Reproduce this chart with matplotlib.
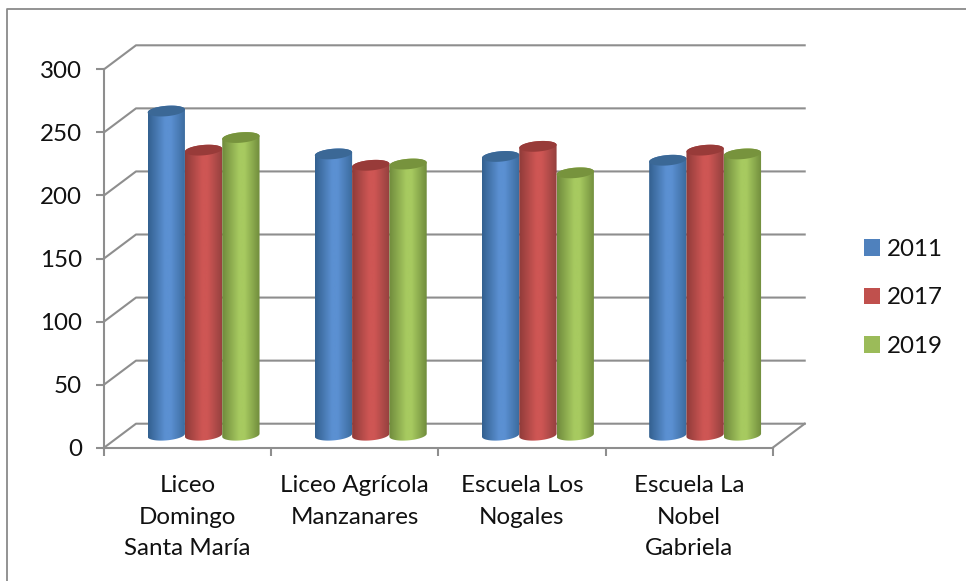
import numpy as np
import matplotlib
matplotlib.use('Agg')
import matplotlib.pyplot as plt
from matplotlib.colors import LinearSegmentedColormap
from matplotlib.lines import Line2D
from matplotlib.patches import Patch, Polygon

schools = ['Liceo\nDomingo\nSanta María', 'Liceo Agrícola\nManzanares', 'Escuela Los\nNogales', 'Escuela La\nNobel\nGabriela']
years = ['2011', '2017', '2019']
values_2011 = [257, 223, 221, 218]
values_2017 = [226, 214, 229, 226]
values_2019 = [236, 215, 208, 223]
y_ticks = [0, 50, 100, 150, 200, 250, 300]

W, H = 966, 581
GRID = '#8e8e8e'
TEXT = '#111111'
FONT = 'Lato'
FONT_SIZE = 17.4

# body gradient (edge, centre, edge) and top cap per series
shades = [('#33608f', '#5b90d2', '#3a6a9c'), ('#8f3b39', '#ce5654', '#93403e'), ('#6f8a3c', '#a7ca60', '#708c3c')]
side_colors = ['#4f81bd', '#c0504d', '#9bbb59']
cap_colors = ['#3b6896', '#983b39', '#77933d']

# plot box in pixels
left, right, top, bottom = 104, 772.7, 69.3, 447.7
px_x = (right - left) / 4
px_y = (bottom - top) / 300
depth_x = 32 / px_x
depth_y = 24 / px_y
bar_w = 37.3 / px_x
cap_b = 5.2 / px_y
cap_tilt = 1.5 / px_y
base_y = 12.5 / px_y

fig = plt.figure(figsize=(W / 100, H / 100), dpi=100)
ax = fig.add_axes([left / W, 1 - bottom / H, (right - left) / W, (bottom - top) / H])
ax.patch.set_visible(False)

# outer frame, only top and left show
fig.add_artist(Line2D([7 / W, 7 / W, 1], [0, 1 - 9 / H, 1 - 9 / H], color='#8a8a8a', lw=1.3))

# wall and floor lines
for v in y_ticks:
    ax.plot([0, depth_x, 4 + depth_x], [v, v + depth_y, v + depth_y], color=GRID, lw=1.5, clip_on=False, zorder=1)
ax.plot([4, 4 + depth_x], [0, depth_y], color=GRID, lw=1.5, clip_on=False, zorder=1)


def ellipse(cx, cy, t):
    return np.column_stack([cx + bar_w / 2 * np.cos(t), cy + cap_b * np.sin(t) + cap_tilt * np.cos(t)])


def cylinder(cx, value, shade, cap_color, z):
    low = ellipse(cx, base_y, np.linspace(np.pi, 2 * np.pi, 40))
    high = ellipse(cx, base_y + value, np.linspace(0, np.pi, 40))
    body = Polygon(np.vstack([low, high]), closed=True, fc='none', ec='none', zorder=z)
    ax.add_patch(body)
    cmap = LinearSegmentedColormap.from_list('cyl', [(0, shade[0]), (0.45, shade[1]), (0.6, shade[1]), (1, shade[2])])
    im = ax.imshow(np.linspace(0, 1, 128)[None, :], cmap=cmap, aspect='auto', zorder=z,
                   extent=(cx - bar_w / 2, cx + bar_w / 2, 0, 300), interpolation='bilinear')
    im.set_clip_path(body)
    cap = ellipse(cx, base_y + value, np.linspace(0, 2 * np.pi, 60))
    ax.add_patch(Polygon(cap, closed=True, fc=cap_color, ec='none', zorder=z + 0.5))


for j, series in enumerate([values_2011, values_2017, values_2019]):
    for i, value in enumerate(series):
        cx = i + 0.5 + (j - 1) * bar_w + depth_x / 2
        cylinder(cx, value, shades[j], cap_colors[j], 3 + j)

ax.set_xlim(0, 4)
ax.set_ylim(0, 300)

for name in ['top', 'right']:
    ax.spines[name].set_visible(False)
for name in ['left', 'bottom']:
    ax.spines[name].set_color(GRID)
    ax.spines[name].set_linewidth(1.5)

ax.set_yticks(y_ticks)
ax.set_xticks(range(5))
ax.set_xticklabels([])
ax.set_xticks([0.5, 1.5, 2.5, 3.5], minor=True)
ax.set_xticklabels(schools, minor=True, linespacing=1.6)
ax.tick_params(axis='x', which='major', length=6, width=1.5, color=GRID)
ax.tick_params(axis='x', which='minor', length=0, pad=20, labelsize=FONT_SIZE, labelcolor=TEXT, labelfontfamily=FONT)
ax.tick_params(axis='y', length=6, width=1.5, color=GRID, pad=10, labelsize=FONT_SIZE, labelcolor=TEXT, labelfontfamily=FONT)

handles = [Patch(fc=c, ec='none') for c in side_colors]
fig.legend(handles, years, loc='center left', bbox_to_anchor=(864 / W, 1 - 298 / H), frameon=False,
           prop={'family': FONT, 'size': FONT_SIZE}, labelcolor=TEXT, handlelength=0.66, handleheight=0.66,
           handletextpad=0.3, labelspacing=1.14, borderpad=0, borderaxespad=0)

fig.savefig('out.png', dpi=100, facecolor='white')
